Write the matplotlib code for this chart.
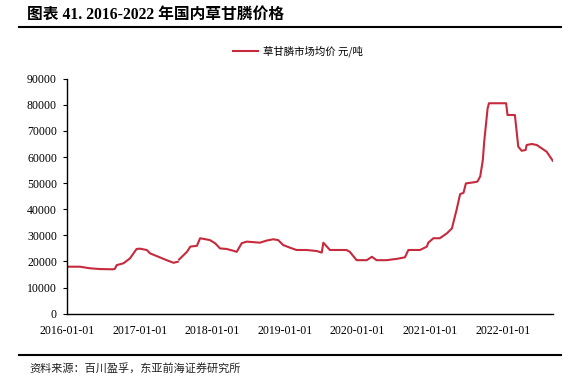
import numpy as np
import pandas as pd
import matplotlib
matplotlib.use("Agg")
import matplotlib.pyplot as plt
from matplotlib.lines import Line2D

plt.rcParams['font.family'] = ['Liberation Serif', 'Noto Sans CJK SC']

title = "图表 41. 2016-2022 年国内草甘膦价格"
legend_label = "草甘膦市场均价 元/吨"
source = "资料来源：百川盈孚，东亚前海证券研究所"

dates = [
    "2016-01-01", "2016-03-07", "2016-04-26", "2016-06-15", "2016-08-21", "2016-08-30",
    "2016-09-08", "2016-10-12", "2016-11-14", "2016-12-17", "2017-01-03", "2017-02-06",
    "2017-02-23", "2017-04-12", "2017-05-17", "2017-06-21", "2017-07-12", "2017-07-15",
    "2017-07-19", "2017-08-27", "2017-09-13", "2017-10-16", "2017-11-01", "2017-12-20",
    "2018-01-15", "2018-02-09", "2018-03-14", "2018-04-17", "2018-05-04", "2018-05-29",
    "2018-06-23", "2018-08-29", "2018-10-01", "2018-11-03", "2018-11-28", "2018-12-23",
    "2019-01-26", "2019-02-28", "2019-04-20", "2019-06-10", "2019-07-05", "2019-07-13",
    "2019-08-15", "2019-11-06", "2019-11-23", "2019-12-27", "2020-02-16", "2020-03-13",
    "2020-04-05", "2020-05-26", "2020-07-16", "2020-08-26", "2020-09-12", "2020-11-10",
    "2020-12-14", "2020-12-21", "2021-01-16", "2021-02-17", "2021-03-25", "2021-04-19",
    "2021-04-27", "2021-05-12", "2021-05-30", "2021-06-16", "2021-06-28", "2021-08-05",
    "2021-08-25", "2021-09-08", "2021-09-21", "2021-09-28", "2021-10-15", "2021-10-22",
    "2022-01-16", "2022-01-23", "2022-03-01", "2022-03-10", "2022-03-18", "2022-04-04",
    "2022-04-24", "2022-04-29", "2022-05-25", "2022-06-19", "2022-07-22", "2022-08-08",
    "2022-09-07",
]
prices = [
    18000, 18000, 17400, 17100, 17000, 17200,
    18600, 19300, 21200, 24800, 24900, 24400,
    23100, 21600, 20500, 19500, 19900, np.nan,
    20800, 23700, 25700, 26000, 28900, 28200,
    27000, 25000, 24800, 24100, 23700, 27000,
    27600, 27200, 28000, 28500, 28200, 26300,
    25300, 24400, 24400, 24000, 23400, 27200,
    24400, 24400, 23700, 20500, 20500, 21800,
    20500, 20500, 21000, 21600, 24400, 24400,
    25700, 27200, 28900, 28900, 30800, 32700,
    35200, 39700, 45800, 46300, 49900, 50300,
    50600, 52600, 58800, 65900, 78600, 80600,
    80600, 76100, 76100, 69700, 64000, 62400,
    62700, 64600, 65000, 64600, 62900, 62000,
    58600,
]
xtick_labels = ["2016-01-01", "2017-01-01", "2018-01-01", "2019-01-01",
                "2020-01-01", "2021-01-01", "2022-01-01"]
yticks = [0, 10000, 20000, 30000, 40000, 50000, 60000, 70000, 80000, 90000]

x = pd.to_datetime(dates)
fig = plt.figure(figsize=(5.8, 3.79), dpi=100)
ax = fig.add_axes([66.7 / 580, 1 - 313.7 / 379, 486 / 580, 235 / 379])

line, = ax.plot(x, prices, color="#C62A3C", lw=1.5, label=legend_label)

ax.set_xlim(pd.Timestamp("2016-01-01"), pd.Timestamp("2022-09-07"))
ax.set_ylim(0, 90000)
ax.set_yticks(yticks)
ax.set_yticklabels([str(v) for v in yticks], fontsize=8.5)
ax.set_xticks(pd.to_datetime(xtick_labels))
ax.set_xticklabels(xtick_labels, fontsize=8.5)
ax.tick_params(axis="x", length=0, pad=8)
ax.tick_params(axis="y", length=3, direction="out", pad=4, width=0.8)
for s in ["top", "right"]:
    ax.spines[s].set_visible(False)
for s in ["left", "bottom"]:
    ax.spines[s].set_color("black")
    ax.spines[s].set_linewidth(1.0)

fig.legend(handles=[line], labels=[legend_label], loc="center",
           bbox_to_anchor=(298 / 580, 1 - 51 / 379), frameon=False,
           prop={"family": ["Noto Sans CJK SC"], "size": 7.5},
           handlelength=2.4, handletextpad=0.5)

fig.text(27 / 580, 1 - 15 / 379, title, fontsize=11.3, fontweight="bold",
         va="center", ha="left")
fig.add_artist(Line2D([19 / 580, 561 / 580], [1 - 27 / 379, 1 - 27 / 379],
                      color="black", lw=1.5, transform=fig.transFigure))
fig.add_artist(Line2D([19 / 580, 561 / 580], [1 - 355 / 379, 1 - 355 / 379],
                      color="black", lw=1.5, transform=fig.transFigure))
fig.text(29 / 580, 1 - 368 / 379, source, fontsize=8,
         family=["Noto Sans CJK SC"], va="center", ha="left", color="#222222")

fig.savefig("out.png", dpi=100)
